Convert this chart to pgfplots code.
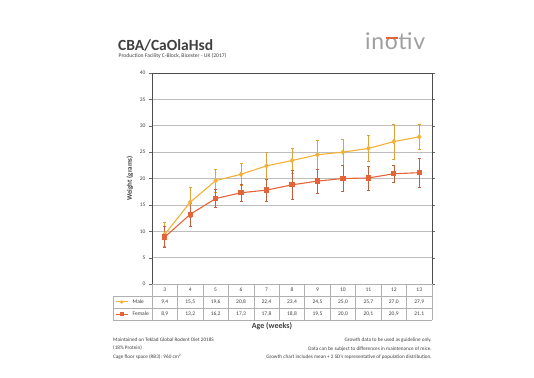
\documentclass[border=0pt]{standalone}
\usepackage{pgfplots}
\pgfplotsset{compat=1.18}
\usetikzlibrary{shapes.geometric}
\usepackage{fontspec}
\setmainfont{Carlito}
\newfontfamily\logofont[LetterSpace=3]{Lato}
\definecolor{male}{HTML}{F2B036}
\definecolor{maleerr}{HTML}{E6A03A}
\definecolor{female}{HTML}{E4643A}
\definecolor{femaleerr}{HTML}{C2603E}
\definecolor{gridc}{HTML}{BDBDBD}
\definecolor{tabc}{HTML}{B0B0B0}
\definecolor{txt}{HTML}{404040}
\begin{document}
\begin{tikzpicture}[x=1pt,y=1pt]
\path (0,0) rectangle (534,377);
% title
\node[anchor=base west,font=\fontsize{15.5}{16}\selectfont\bfseries,text=txt,inner sep=0] at (118,326.5) {CBA/CaOlaHsd};
\node[anchor=base west,font=\fontsize{5.6}{7}\selectfont,text=txt,inner sep=0] at (118.5,319.5) {Production Facility C-Block, Bicester - UK (2017)};
% logo
\node[anchor=base west,font=\fontsize{23}{25}\selectfont\logofont,text=gray!75,inner sep=0] (logo) at (365,327) {inotiv};
\fill[female] (385.5,338.3) rectangle (397.5,340.3);
\begin{axis}[
  at={(152pt,93pt)}, anchor=south west,
  scale only axis, width=280pt, height=211pt,
  xmin=2.5, xmax=13.5, ymin=0, ymax=40,
  ytick={0,5,...,40},
  xtick=\empty,
  ymajorgrids, grid style={gridc, line width=0.6pt},
  axis line style={black!70, line width=0.6pt},
  y tick label style={font=\fontsize{5.5}{6}\selectfont, text=txt},
  /pgf/number format/assume math mode=true,
  tick style={black!60},
  ytick align=outside, major tick length=3pt,
  ylabel={\textbf{Weight (grams)}},
  ylabel style={font=\fontsize{7}{8}\selectfont, text=txt},
  clip=false,
]
\addplot[maleerr, line width=0.6pt, draw=none, mark=none, forget plot,
  error bars/.cd, y dir=both, y explicit, error mark options={rotate=90,mark size=1.5pt,line width=0.5pt, maleerr}, error bar style={line width=0.5pt, maleerr}]
coordinates {
(3,9.4) +- (0,2.3)
(4,15.5) +- (0,2.8)
(5,19.6) +- (0,2.2)
(6,20.8) +- (0,2.0)
(7,22.4) +- (0,2.5)
(8,23.4) +- (0,2.4)
(9,24.5) +- (0,2.7)
(10,25.0) +- (0,2.4)
(11,25.7) +- (0,2.5)
(12,27.0) +- (0,3.3)
(13,27.9) +- (0,2.4)
};
\addplot[femaleerr, draw=none, mark=none, forget plot,
  error bars/.cd, y dir=both, y explicit, error mark options={rotate=90,mark size=1.5pt,line width=0.5pt, femaleerr}, error bar style={line width=0.5pt, femaleerr}]
coordinates {
(3,8.9) +- (0,2.0)
(4,13.2) +- (0,2.2)
(5,16.2) +- (0,1.7)
(6,17.3) +- (0,1.7)
(7,17.8) +- (0,2.1)
(8,18.8) +- (0,2.7)
(9,19.5) +- (0,2.3)
(10,20.0) +- (0,2.5)
(11,20.1) +- (0,2.3)
(12,20.9) +- (0,1.6)
(13,21.1) +- (0,2.7)
};
\addplot[male, line width=1.1pt, mark=diamond*, mark size=2pt, mark options={fill=male, draw=male}]
coordinates {(3,9.4)(4,15.5)(5,19.6)(6,20.8)(7,22.4)(8,23.4)(9,24.5)(10,25.0)(11,25.7)(12,27.0)(13,27.9)};
\addplot[female, line width=1.1pt, mark=square*, mark size=2.1pt, mark options={fill=female, draw=female}]
coordinates {(3,8.9)(4,13.2)(5,16.2)(6,17.3)(7,17.8)(8,18.8)(9,19.5)(10,20.0)(11,20.1)(12,20.9)(13,21.1)};
% data table
\draw[tabc, line width=0.5pt] (axis cs:2.5,0) -- (axis cs:2.5,-6.83);
\draw[tabc, line width=0.5pt] (axis cs:0.97,-2.28) -- (axis cs:13.5,-2.28);
\draw[tabc, line width=0.5pt] (axis cs:0.97,-4.55) -- (axis cs:13.5,-4.55);
\draw[tabc, line width=0.5pt] (axis cs:0.97,-6.83) -- (axis cs:13.5,-6.83);
\draw[tabc, line width=0.5pt] (axis cs:0.97,-2.28) -- (axis cs:0.97,-6.83);
\pgfplotsinvokeforeach{3,...,13}{
  \draw[tabc, line width=0.5pt] (axis cs:#1+0.5,0) -- (axis cs:#1+0.5,-6.83);
  \node[font=\fontsize{5.5}{6}\selectfont, text=txt] at (axis cs:#1,-1.14) {#1};
}
\draw[tabc, line width=0.5pt] (axis cs:2.5,0) -- (axis cs:13.5,0);
\begin{scope}[every node/.style={font=\fontsize{5.5}{6}\selectfont, text=txt}]
\node at (axis cs:3,-3.41) {9,4};
\node at (axis cs:4,-3.41) {15,5};
\node at (axis cs:5,-3.41) {19,6};
\node at (axis cs:6,-3.41) {20,8};
\node at (axis cs:7,-3.41) {22,4};
\node at (axis cs:8,-3.41) {23,4};
\node at (axis cs:9,-3.41) {24,5};
\node at (axis cs:10,-3.41) {25,0};
\node at (axis cs:11,-3.41) {25,7};
\node at (axis cs:12,-3.41) {27,0};
\node at (axis cs:13,-3.41) {27,9};
\node at (axis cs:3,-5.69) {8,9};
\node at (axis cs:4,-5.69) {13,2};
\node at (axis cs:5,-5.69) {16,2};
\node at (axis cs:6,-5.69) {17,3};
\node at (axis cs:7,-5.69) {17,8};
\node at (axis cs:8,-5.69) {18,8};
\node at (axis cs:9,-5.69) {19,5};
\node at (axis cs:10,-5.69) {20,0};
\node at (axis cs:11,-5.69) {20,1};
\node at (axis cs:12,-5.69) {20,9};
\node at (axis cs:13,-5.69) {21,1};
\node[anchor=west] at (axis cs:1.6,-3.41) {Male};
\node[anchor=west] at (axis cs:1.6,-5.69) {Female};
\end{scope}
\draw[male, line width=1pt] (axis cs:1.08,-3.41) -- (axis cs:1.55,-3.41);
\node[male, diamond, fill=male, inner sep=0, minimum size=4pt] at (axis cs:1.31,-3.41) {};
\draw[female, line width=1pt] (axis cs:1.08,-5.69) -- (axis cs:1.55,-5.69);
\node[female, fill=female, inner sep=0, minimum size=3.8pt] at (axis cs:1.31,-5.69) {};
\end{axis}
\node[font=\fontsize{8}{9}\selectfont\bfseries, text=txt] at (272,51) {Age (weeks)};
\begin{scope}[every node/.style={font=\fontsize{5.2}{6}\selectfont, text=txt, inner sep=0}]
\node[anchor=west] at (113,37) {Maintained on Teklad Global Rodent Diet 2018S};
\node[anchor=west] at (113,29) {(18\% Protein)};
\node[anchor=west] at (113,20) {Cage floor space (RB3): 960 cm\textsuperscript{2}};
\node[anchor=east] at (432,37) {Growth data to be used as guideline only.};
\node[anchor=east] at (432,28) {Data can be subject to differences in maintenance of mice.};
\node[anchor=east] at (432,20) {Growth chart includes mean + 2 SD's representative of population distribution.};
\end{scope}
\end{tikzpicture}
\end{document}
